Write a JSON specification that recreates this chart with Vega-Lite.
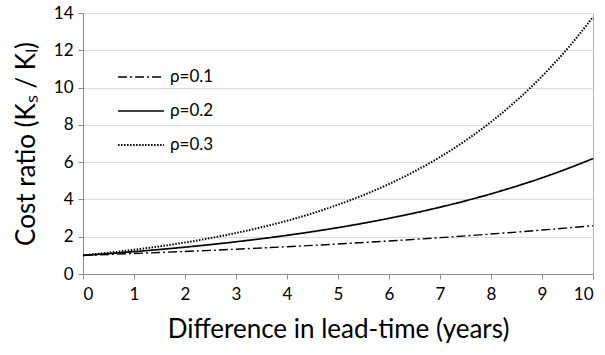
{
  "$schema": "https://vega.github.io/schema/vega-lite/v6.json",
  "width": 510,
  "height": 261,
  "autosize": "none",
  "padding": {"left": 83, "top": 13, "right": 12, "bottom": 81},
  "background": "white",
  "config": {
    "font": "Lato",
    "view": {"stroke": "#b3b3b3", "strokeWidth": 1},
    "axis": {"labelFont": "Lato", "titleFont": "Lato", "labelColor": "#000", "titleColor": "#000", "titleFontWeight": "normal", "domainColor": "#8c8c8c", "tickColor": "#8c8c8c", "gridColor": "#d9d9d9", "labelFontSize": 17, "titleFontSize": 26}
  },
  "data": {"values": [
    {"x": 0, "rho": "ρ=0.1", "y": 1}, {"x": 0.5, "rho": "ρ=0.1", "y": 1.0488}, {"x": 1, "rho": "ρ=0.1", "y": 1.1}, {"x": 1.5, "rho": "ρ=0.1", "y": 1.1537}, {"x": 2, "rho": "ρ=0.1", "y": 1.21}, {"x": 2.5, "rho": "ρ=0.1", "y": 1.2691}, {"x": 3, "rho": "ρ=0.1", "y": 1.331}, {"x": 3.5, "rho": "ρ=0.1", "y": 1.396}, {"x": 4, "rho": "ρ=0.1", "y": 1.4641}, {"x": 4.5, "rho": "ρ=0.1", "y": 1.5356}, {"x": 5, "rho": "ρ=0.1", "y": 1.6105}, {"x": 5.5, "rho": "ρ=0.1", "y": 1.6891}, {"x": 6, "rho": "ρ=0.1", "y": 1.7716}, {"x": 6.5, "rho": "ρ=0.1", "y": 1.8581}, {"x": 7, "rho": "ρ=0.1", "y": 1.9487}, {"x": 7.5, "rho": "ρ=0.1", "y": 2.0439}, {"x": 8, "rho": "ρ=0.1", "y": 2.1436}, {"x": 8.5, "rho": "ρ=0.1", "y": 2.2483}, {"x": 9, "rho": "ρ=0.1", "y": 2.3579}, {"x": 9.5, "rho": "ρ=0.1", "y": 2.4729}, {"x": 10, "rho": "ρ=0.1", "y": 2.5937},
    {"x": 0, "rho": "ρ=0.2", "y": 1}, {"x": 0.5, "rho": "ρ=0.2", "y": 1.0954}, {"x": 1, "rho": "ρ=0.2", "y": 1.2}, {"x": 1.5, "rho": "ρ=0.2", "y": 1.3145}, {"x": 2, "rho": "ρ=0.2", "y": 1.44}, {"x": 2.5, "rho": "ρ=0.2", "y": 1.5774}, {"x": 3, "rho": "ρ=0.2", "y": 1.728}, {"x": 3.5, "rho": "ρ=0.2", "y": 1.8929}, {"x": 4, "rho": "ρ=0.2", "y": 2.0736}, {"x": 4.5, "rho": "ρ=0.2", "y": 2.2715}, {"x": 5, "rho": "ρ=0.2", "y": 2.4883}, {"x": 5.5, "rho": "ρ=0.2", "y": 2.7258}, {"x": 6, "rho": "ρ=0.2", "y": 2.986}, {"x": 6.5, "rho": "ρ=0.2", "y": 3.2709}, {"x": 7, "rho": "ρ=0.2", "y": 3.5832}, {"x": 7.5, "rho": "ρ=0.2", "y": 3.9251}, {"x": 8, "rho": "ρ=0.2", "y": 4.2998}, {"x": 8.5, "rho": "ρ=0.2", "y": 4.7101}, {"x": 9, "rho": "ρ=0.2", "y": 5.1598}, {"x": 9.5, "rho": "ρ=0.2", "y": 5.6521}, {"x": 10, "rho": "ρ=0.2", "y": 6.1917},
    {"x": 0, "rho": "ρ=0.3", "y": 1}, {"x": 0.5, "rho": "ρ=0.3", "y": 1.1402}, {"x": 1, "rho": "ρ=0.3", "y": 1.3}, {"x": 1.5, "rho": "ρ=0.3", "y": 1.4822}, {"x": 2, "rho": "ρ=0.3", "y": 1.69}, {"x": 2.5, "rho": "ρ=0.3", "y": 1.9269}, {"x": 3, "rho": "ρ=0.3", "y": 2.197}, {"x": 3.5, "rho": "ρ=0.3", "y": 2.505}, {"x": 4, "rho": "ρ=0.3", "y": 2.8561}, {"x": 4.5, "rho": "ρ=0.3", "y": 3.2565}, {"x": 5, "rho": "ρ=0.3", "y": 3.7129}, {"x": 5.5, "rho": "ρ=0.3", "y": 4.2334}, {"x": 6, "rho": "ρ=0.3", "y": 4.8268}, {"x": 6.5, "rho": "ρ=0.3", "y": 5.5034}, {"x": 7, "rho": "ρ=0.3", "y": 6.2749}, {"x": 7.5, "rho": "ρ=0.3", "y": 7.1546}, {"x": 8, "rho": "ρ=0.3", "y": 8.1573}, {"x": 8.5, "rho": "ρ=0.3", "y": 9.301}, {"x": 9, "rho": "ρ=0.3", "y": 10.6045}, {"x": 9.5, "rho": "ρ=0.3", "y": 12.0911}, {"x": 10, "rho": "ρ=0.3", "y": 13.7858}
  ]},
  "mark": {"type": "line", "color": "#000", "interpolate": "monotone"},
  "encoding": {
    "x": {"field": "x", "type": "quantitative", "scale": {"domain": [0, 10], "nice": false},
      "axis": {"title": "Difference in lead-time (years)", "values": [0,1,2,3,4,5,6,7,8,9,10], "grid": false, "tickSize": 5, "labelPadding": 7, "titlePadding": 14}},
    "y": {"field": "y", "type": "quantitative", "scale": {"domain": [0, 14], "nice": false},
      "axis": {"title": "Cost ratio (Kₛ / Kₗ)", "values": [0,2,4,6,8,10,12,14], "tickSize": 5, "labelPadding": 5, "titlePadding": 14}},
    "strokeDash": {"field": "rho", "type": "nominal",
      "scale": {"domain": ["ρ=0.1", "ρ=0.2", "ρ=0.3"], "range": [[9, 3, 2, 3], [1, 0], [1.5, 1.5]]},
      "legend": {"title": null, "orient": "none", "legendX": 34, "legendY": 40, "symbolType": "stroke", "symbolSize": 2100, "symbolStrokeColor": "#000", "labelFontSize": 17, "labelFont": "Lato", "rowPadding": 2, "labelOffset": 5}},
    "strokeWidth": {"field": "rho", "type": "nominal",
      "scale": {"domain": ["ρ=0.1", "ρ=0.2", "ρ=0.3"], "range": [1.4, 2, 1.4]}, "legend": null}
  }
}
